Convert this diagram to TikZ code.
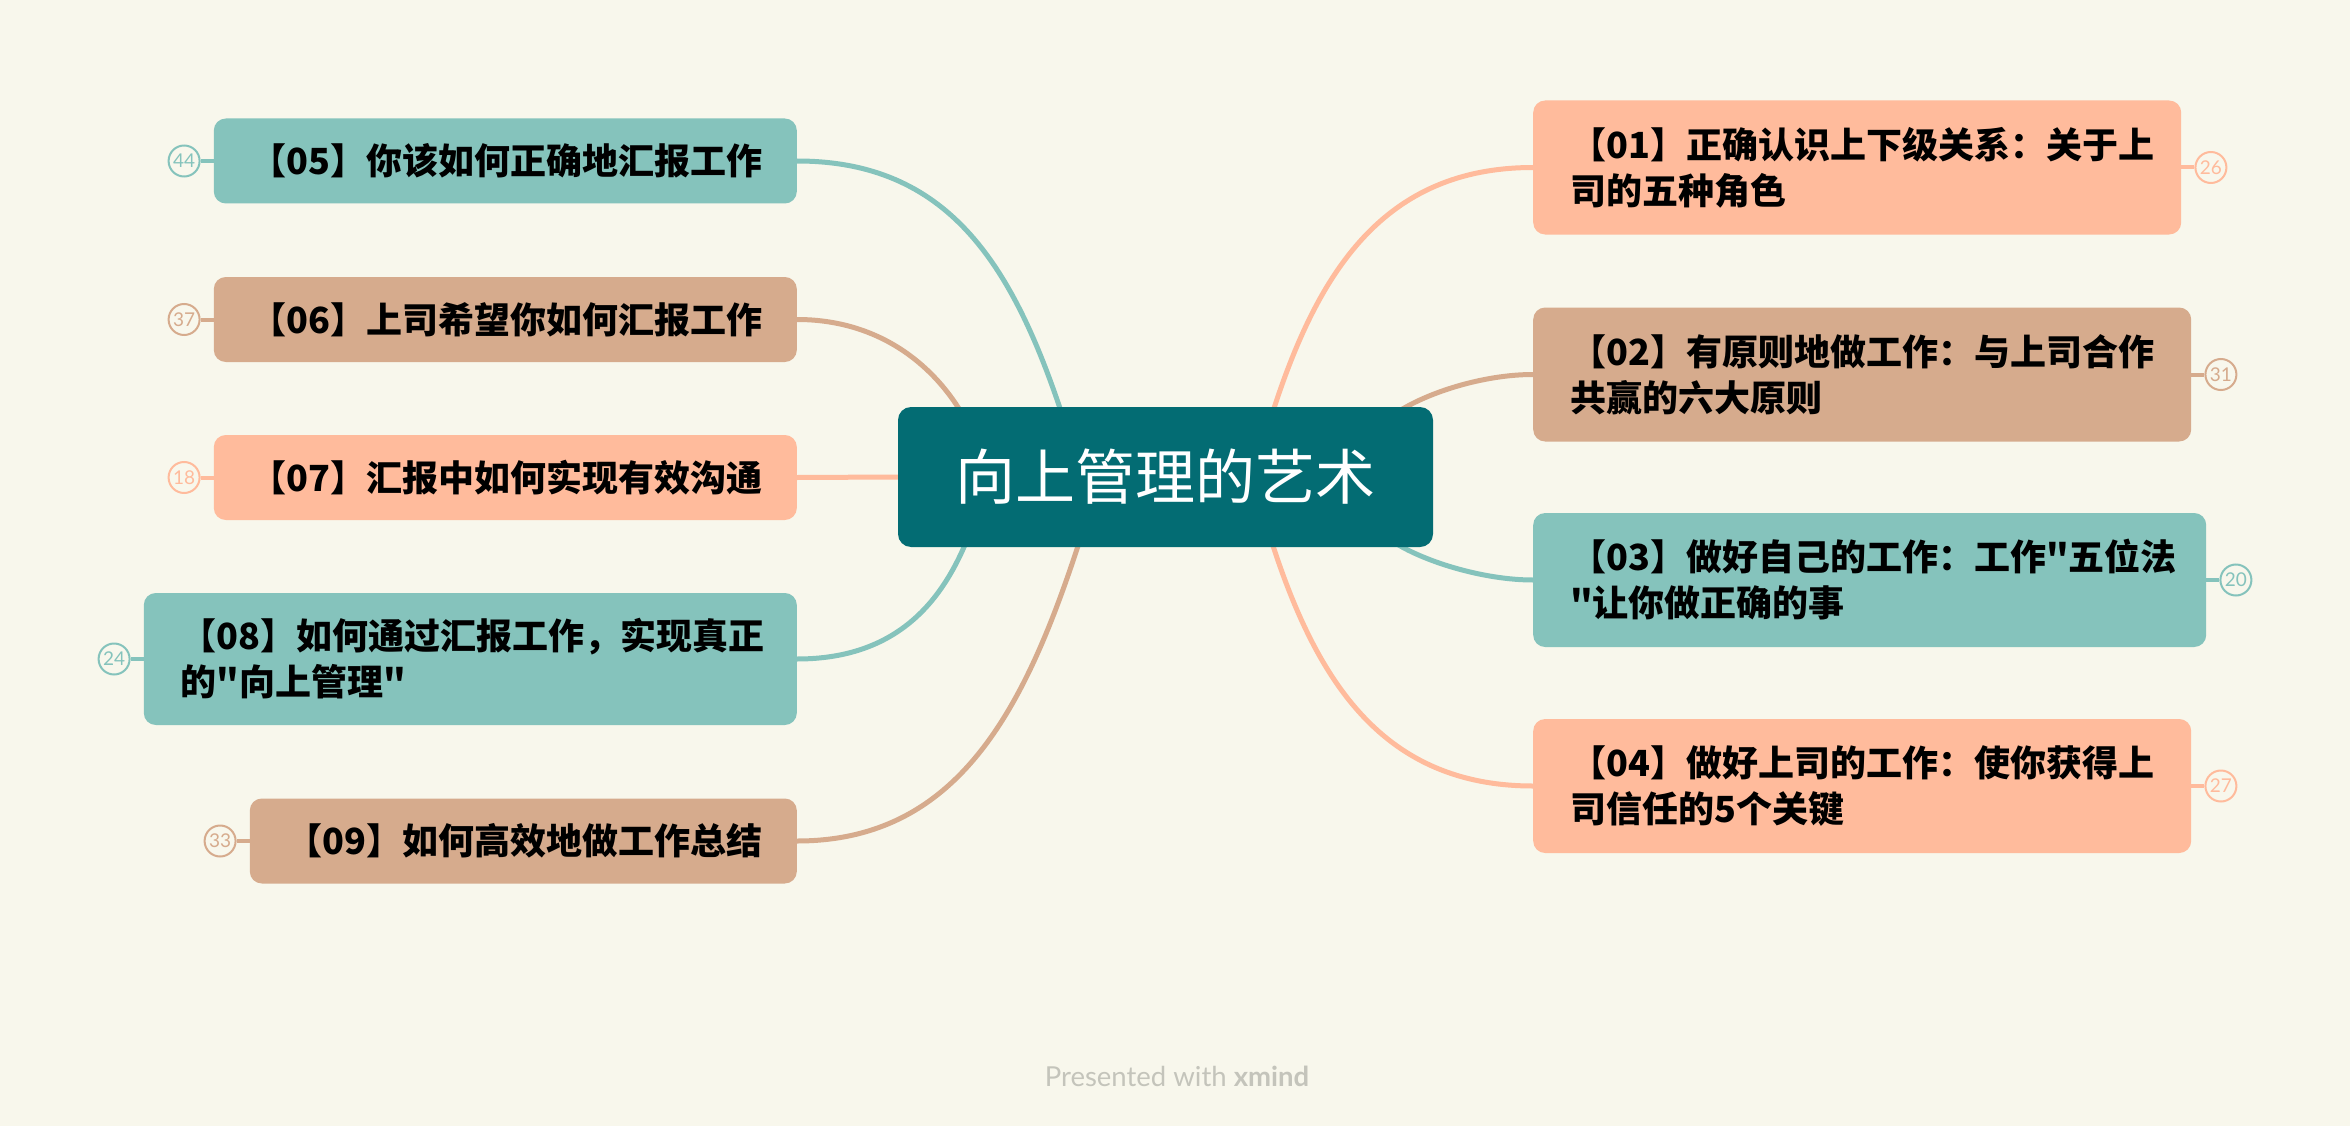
\documentclass[tikz,border=0pt]{standalone}
\usepackage{fontspec}
\newfontfamily\cjk{Noto Sans CJK SC}
\newfontfamily\latofont{Lato}
\usetikzlibrary{backgrounds,positioning}
\definecolor{bgc}{HTML}{F8F7EC}
\definecolor{tealc}{HTML}{85C3BC}
\definecolor{peachc}{HTML}{FFBB9C}
\definecolor{tanc}{HTML}{D6AB8D}
\definecolor{rootc}{HTML}{036C73}
\definecolor{footc}{HTML}{C4C4BB}
\begin{document}
\begin{tikzpicture}[x=1pt,y=-1pt,
  topic/.style={rounded corners=12pt, inner xsep=37pt, inner ysep=0pt, align=left, text=black,
    font=\cjk\bfseries\fontsize{36}{46}\selectfont},
  single/.style={minimum height=85pt},
  double/.style={minimum height=134pt},
  tealbox/.style={fill=tealc},
  peachbox/.style={fill=peachc},
  tanbox/.style={fill=tanc},
  badge/.style={circle, draw=#1, line width=2pt, fill=bgc, text=#1, minimum size=31pt, inner sep=0pt,
    font=\latofont\fontsize{19}{19}\selectfont},
  conn/.style={line width=5pt, line cap=round},
  blink/.style={line width=4pt},
]
\useasboundingbox (0,0) rectangle (2350,1126);

% central topic
\node[rounded corners=13pt, fill=rootc, text=white, minimum width=535pt, minimum height=140pt,
  inner sep=0pt, font=\cjk\fontsize{60}{60}\selectfont] (root) at (1165.5,477) {向上管理的艺术};

% left topics
\node[topic, tealbox, single, text width=509pt, anchor=east] (n05) at (797,161) {【05】你该如何正确地汇报工作};
\node[topic, tanbox, single, text width=509pt, anchor=east] (n06) at (797,319.5) {【06】上司希望你如何汇报工作};
\node[topic, peachbox, single, text width=509pt, anchor=east] (n07) at (797,477.5) {【07】汇报中如何实现有效沟通};
\node[topic, tealbox, minimum height=132pt, text width=579pt, anchor=east] (n08) at (797,659) {【08】如何通过汇报工作，实现真正\\的"向上管理"};
\node[topic, tanbox, single, text width=473pt, anchor=east] (n09) at (797,841) {【09】如何高效地做工作总结};

% right topics
\node[topic, peachbox, double, text width=574pt, anchor=west] (n01) at (1533,167.5) {【01】正确认识上下级关系：关于上\\司的五种角色};
\node[topic, tanbox, double, text width=584pt, anchor=west] (n02) at (1533,374.5) {【02】有原则地做工作：与上司合作\\共赢的六大原则};
\node[topic, tealbox, double, text width=599pt, anchor=west] (n03) at (1533,580) {【03】做好自己的工作：工作"五位法\\"让你做正确的事};
\node[topic, peachbox, double, text width=584pt, anchor=west] (n04) at (1533,786) {【04】做好上司的工作：使你获得上\\司信任的5个关键};

% badges
\node[badge=tealc, left=13pt of n05] (b05) {44};
\node[badge=tanc, left=13pt of n06] (b06) {37};
\node[badge=peachc, left=13pt of n07] (b07) {18};
\node[badge=tealc, left=13pt of n08] (b08) {24};
\node[badge=tanc, left=13pt of n09] (b09) {33};
\node[badge=peachc, right=13pt of n01] (b01) {26};
\node[badge=tanc, right=13pt of n02] (b02) {31};
\node[badge=tealc, right=13pt of n03] (b03) {20};
\node[badge=peachc, right=13pt of n04] (b04) {27};

% footer
\node[text=footc, font=\latofont\fontsize{27.5}{28}\selectfont] (foot) at (1177,1076) {Presented with \textbf{xmind}};

\begin{scope}[on background layer]
\fill[bgc] (0,0) rectangle (2350,1126);
% left connectors
\draw[conn, tealc] ([xshift=-104pt,yshift=-6pt]root.north) .. controls +(-50,-150) and +(150,0) .. (n05.east);
\draw[conn, tanc] ([xshift=-204pt,yshift=-6pt]root.north) .. controls +(-30,-50) and +(80,0) .. (n06.east);
\draw[conn, peachc] (root.west) -- (n07.east);
\draw[conn, tealc] ([xshift=-199pt,yshift=6pt]root.south) .. controls +(-25,60) and +(100,0) .. (n08.east);
\draw[conn, tanc] ([xshift=-86pt,yshift=6pt]root.south) .. controls +(-55,170) and +(160,0) .. (n09.east);
% right connectors
\draw[conn, peachc] ([xshift=107pt,yshift=-6pt]root.north) .. controls +(45,-140) and +(-150,0) .. (n01.west);
\draw[conn, tanc] ([xshift=231pt,yshift=-6pt]root.north) .. controls +(30,-20) and +(-50,0) .. (n02.west);
\draw[conn, tealc] ([xshift=227pt,yshift=6pt]root.south) .. controls +(30,20) and +(-50,0) .. (n03.west);
\draw[conn, peachc] ([xshift=106pt,yshift=6pt]root.south) .. controls +(45,140) and +(-150,0) .. (n04.west);
% badge links
\draw[blink, tealc] (b05.east) -- (n05.west);
\draw[blink, tanc] (b06.east) -- (n06.west);
\draw[blink, peachc] (b07.east) -- (n07.west);
\draw[blink, tealc] (b08.east) -- (n08.west);
\draw[blink, tanc] (b09.east) -- (n09.west);
\draw[blink, peachc] (b01.west) -- (n01.east);
\draw[blink, tanc] (b02.west) -- (n02.east);
\draw[blink, tealc] (b03.west) -- (n03.east);
\draw[blink, peachc] (b04.west) -- (n04.east);
\end{scope}
\end{tikzpicture}
\end{document}
